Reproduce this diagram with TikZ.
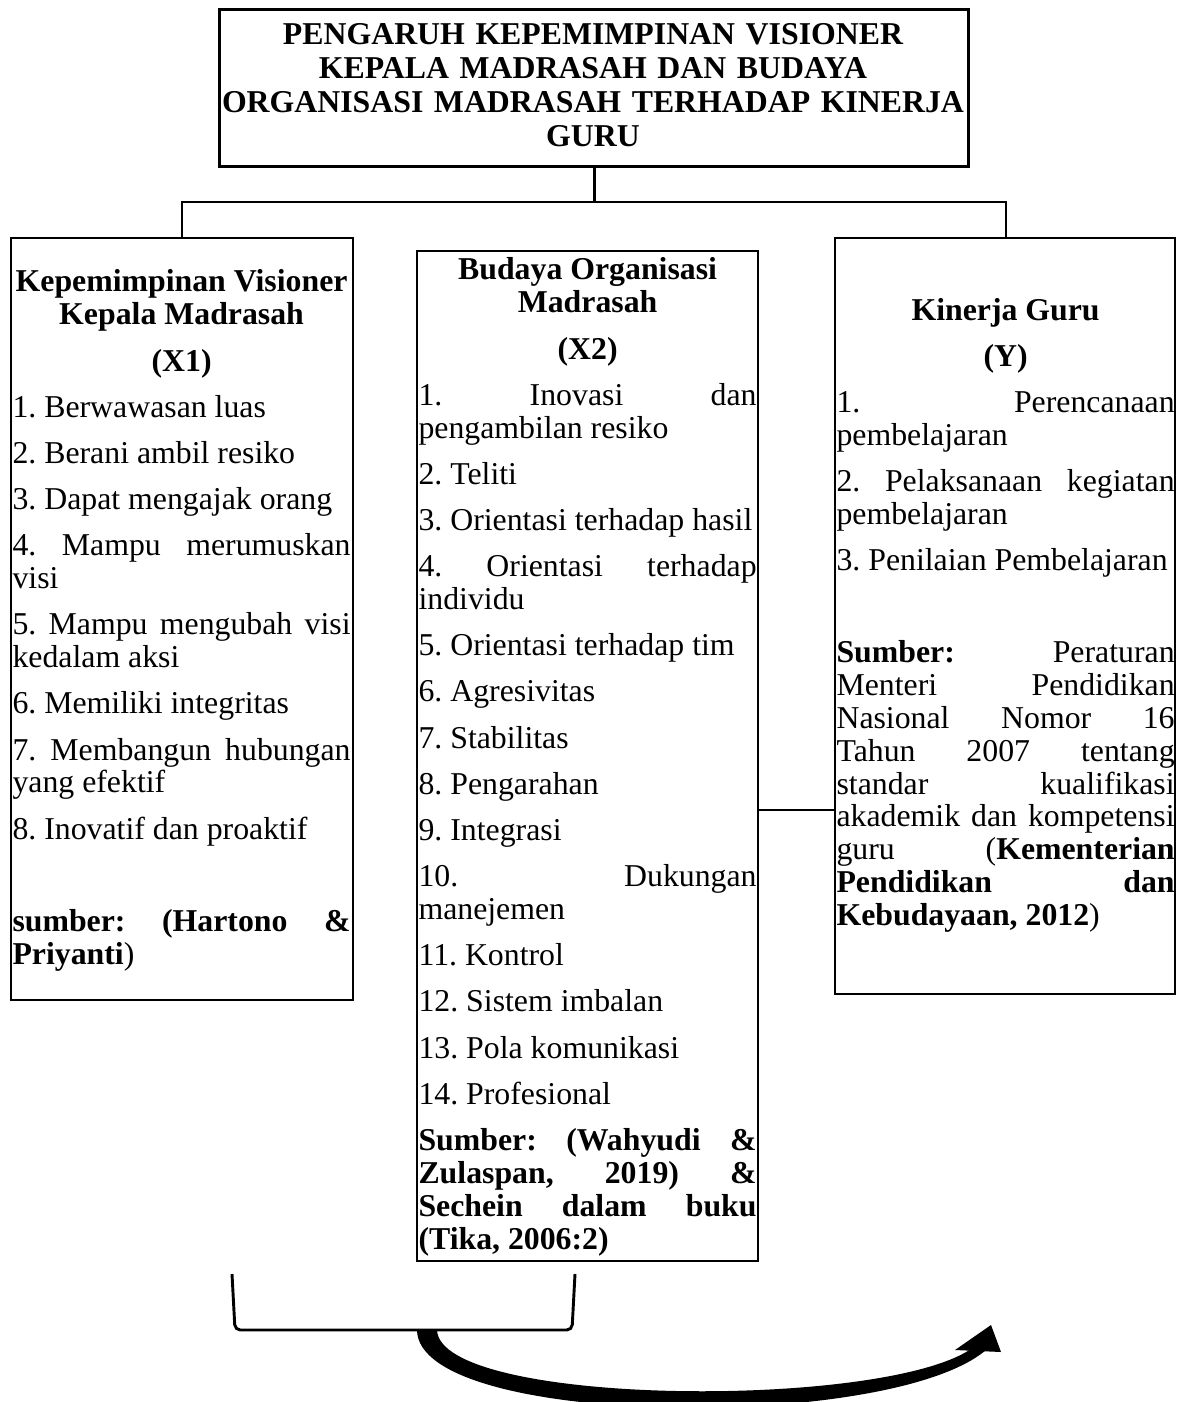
\documentclass[tikz,border=0pt]{standalone}
\usepackage{fontspec}
\setmainfont{Liberation Serif}
\usetikzlibrary{positioning}

\newcommand{\boxfont}{\fontsize{12}{12.38}\selectfont}
\newcommand{\headfont}{\bfseries\fontsize{12}{12.83}\selectfont}
\frenchspacing

\begin{document}
\begin{tikzpicture}[x=0.3774pt, y=-0.3774pt,
  box/.style={draw, line width=0.8pt, inner sep=0, anchor=north west},
  list/.style={anchor=base west, inner sep=0, text width=127.6pt, align=justify, font=\boxfont,
    execute at begin node={\frenchspacing\setlength{\parskip}{5.06pt}\hyphenpenalty=10000\tolerance=9999}},
  link/.style={line width=1.1pt}]
\useasboundingbox (0,0) rectangle (1189,1402);

% Title
\node[box, line width=1.2pt, minimum width=282.7pt, minimum height=59.3pt] (title) at (218,8) {};
\node[anchor=base, inner sep=0, text width=290pt, align=center, font=\headfont] (titletxt) at (593,45)
  {PENGARUH KEPEMIMPINAN VISIONER\\ KEPALA MADRASAH DAN BUDAYA\\ ORGANISASI MADRASAH TERHADAP KINERJA\\ GURU};

% Boxes
\node[box, minimum width=129.1pt, minimum height=287.6pt] (lead) at (10,237) {};
\node[box, minimum width=128.7pt, minimum height=381.2pt] (culture) at (416,250) {};
\node[box, minimum width=128.3pt, minimum height=285.3pt] (perf) at (834,237) {};

% Tree lines
\coordinate (busL) at (182,202);
\coordinate (busR) at (1006,202);
\draw[link] (title.south) -- (title.south |- busL);
\draw[link] (lead.north -| busL) -- (busL) -- (busR) -- (perf.north -| busR);
\coordinate (tie) at (795,810);
\draw[line width=0.8pt] (tie -| culture.east) -- (tie -| perf.west);

% X1
\node[list] (leadtxt) at (12,292) {%
{\centering\bfseries Kepemimpinan Visioner\\ Kepala Madrasah\par}
{\centering\bfseries (X1)\par}
1. Berwawasan luas\par
2. Berani ambil resiko\par
3. Dapat mengajak orang\par
4. Mampu merumuskan\linebreak visi\par
5. Mampu mengubah visi\linebreak kedalam aksi\par
6. Memiliki integritas\par
7. Membangun hubungan\linebreak yang efektif\par
8. Inovatif dan proaktif\par
\mbox{}\par
\textbf{sumber: (Hartono \&\linebreak Priyanti})\par};

% X2
\node[list] (culturetxt) at (418,280) {%
{\centering\bfseries Budaya Organisasi\\ Madrasah\par}
{\centering\bfseries (X2)\par}
1. Inovasi dan\linebreak pengambilan resiko\par
2. Teliti\par
3. Orientasi terhadap hasil\par
4. Orientasi terhadap\linebreak individu\par
5. Orientasi terhadap tim\par
6. Agresivitas\par
7. Stabilitas\par
8. Pengarahan\par
9. Integrasi\par
10. Dukungan\linebreak manejemen\par
11. Kontrol\par
12. Sistem imbalan\par
13. Pola komunikasi\par
14. Profesional\par
\textbf{Sumber: (Wahyudi \&\linebreak Zulaspan, 2019) \&\linebreak Sechein dalam buku\linebreak (Tika, 2006:2)}\par};

% Y
\node[list] (perftxt) at (836,320) {%
{\centering\bfseries Kinerja Guru\par}
{\centering\bfseries (Y)\par}
1. Perencanaan\linebreak pembelajaran\par
2. Pelaksanaan kegiatan\linebreak pembelajaran\par
3. Penilaian Pembelajaran\par
\mbox{}\par
\textbf{Sumber:} Peraturan\linebreak Menteri Pendidikan\linebreak Nasional Nomor 16\linebreak Tahun 2007 tentang\linebreak standar kualifikasi\linebreak akademik dan kompetensi\linebreak guru (\textbf{Kementerian\linebreak Pendidikan dan\linebreak Kebudayaan, 2012})\par};

% Bracket
\draw[link, rounded corners=2] (232,1274) -- (235,1330) -- (572,1330) -- (575,1274);

% Curved arrow
\fill (417,1330) .. controls (418,1428) and (890,1432) .. (986,1350)
  -- (971,1349) .. controls (880,1410) and (440,1406) .. (437,1330) -- cycle;
\fill (955,1350) -- (991,1325) -- (1001,1352) -- cycle;
\end{tikzpicture}
\end{document}
